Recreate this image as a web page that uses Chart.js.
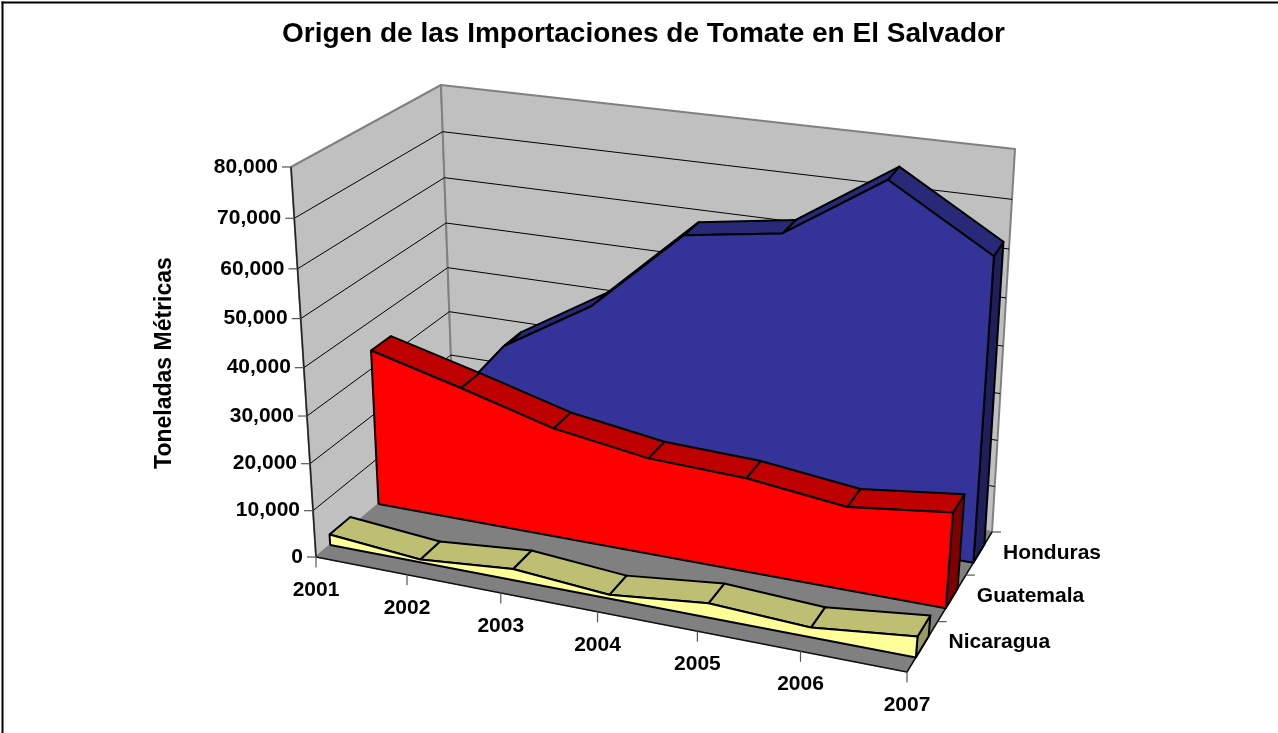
<!DOCTYPE html>
<html>
<head>
<meta charset="utf-8">
<style>html,body{margin:0;padding:0;background:#fff}canvas{display:block}</style>
<script src="https://cdn.jsdelivr.net/npm/chart.js@4"></script>
</head>
<body>
<canvas id="c" width="1278" height="733"></canvas>
<script>
const years = ['2001','2002','2003','2004','2005','2006','2007'];
const depthLabels = ['Nicaragua','Guatemala','Honduras'];
const valueTicks = [0,10000,20000,30000,40000,50000,60000,70000,80000];
const nicaragua = [2300,600,2400,800,3000,2000,4300];
const guatemala = [33900,28900,23500,20500,19800,17400,19900];
const honduras = [8000,30400,42000,59600,62600,75900,63500];
const chartTitle = 'Origen de las Importaciones de Tomate en El Salvador';
const axisTitle = 'Toneladas Métricas';

/* 3-D box frame (canvas px) */
const floorQuad = [[316,557],[907,672],[992,532],[454,440]];
const topQuad   = [[291,167],[942,257],[1015,149],[441,85]];
const VMAX = 80000, PERSP = 1.06;
function sq2q(q){
  const [[x0,y0],[x1,y1],[x2,y2],[x3,y3]] = q;
  const dx1=x1-x2, dx2=x3-x2, sx=x0-x1+x2-x3, dy1=y1-y2, dy2=y3-y2, sy=y0-y1+y2-y3;
  const den=dx1*dy2-dx2*dy1;
  const g=(sx*dy2-dx2*sy)/den, h=(dx1*sy-sx*dy1)/den;
  return {a:x1-x0+g*x1,b:x3-x0+h*x3,c:x0,d:y1-y0+g*y1,e:y3-y0+h*y3,f:y0,g,h};
}
const HF=sq2q(floorQuad), HT=sq2q(topQuad);
const ap=(H,u,v)=>{const w=H.g*u+H.h*v+1;return [(H.a*u+H.b*v+H.c)/w,(H.d*u+H.e*v+H.f)/w];};
function P(u,d,val){
  const f=ap(HF,u,d), t=ap(HT,u,d), r=val/VMAX, k=r/(r+PERSP*(1-r));
  return {x:f[0]+(t[0]-f[0])*k, y:f[1]+(t[1]-f[1])*k};
}
const U=i=>i/(years.length-1);

const ds=[];
function poly(pts,fillC,lineC,lw){
  ds.push({data:pts.concat(fillC?[pts[0]]:[]),showLine:true,pointRadius:0,pointHoverRadius:0,tension:0,
    fill:fillC?'shape':false,backgroundColor:fillC||'transparent',borderColor:lineC,borderWidth:lw,
    borderJoinStyle:'round',clip:false});
}
poly([P(0,0,0),P(0,1,0),P(0,1,VMAX),P(0,0,VMAX)],'#C0C0C0','#808080',2);
poly([P(0,1,0),P(1,1,0),P(1,1,VMAX),P(0,1,VMAX)],'#C0C0C0','#808080',2);
poly([P(0,0,0),P(1,0,0),P(1,1,0),P(0,1,0)],'#808080','#808080',1);
// grid lines
valueTicks.slice(1,-1).forEach(v=>{poly([P(0,0,v),P(0,1,v),P(1,1,v)],null,'#000',1);});
// front axes
poly([P(0,0,0),P(0,0,VMAX)],null,'#222',1.5);
poly([P(0,0,0),P(1,0,0),P(1,1,0)],null,'#111',1.5);
const mark=(p,dx,dy)=>poly([p,{x:p.x+dx,y:p.y+dy}],null,'#555',1.2);
valueTicks.forEach(v=>mark(P(0,0,v),-9,0));
years.forEach((y,i)=>mark(P(U(i),0,0),0,10));
[1/3,2/3,1].forEach(d=>mark(P(1,d,0),9,0));

function series(vals,row,front,top,side){
  const d0=(row+0.28)/3, d1=(row+0.70)/3, n=vals.length;
  const fr=vals.map((v,i)=>P(U(i),d0,v));
  const bk=vals.map((v,i)=>P(U(i),d1,v));
  // right-hand end
  poly([P(1,d0,0),P(1,d1,0),bk[n-1],fr[n-1]],side,'#000',2);
  for(let i=n-2;i>=0;i--) poly([fr[i],fr[i+1],bk[i+1],bk[i]],top,'#000',2);
  poly([P(0,d0,0),P(1,d0,0)].concat(fr.slice().reverse()),front,'#000',2);
}
series(honduras,2,'#333399','#29297A','#1F1F5C');
series(guatemala,1,'#FF0000','#BF0000','#800000');
series(nicaragua,0,'#FFFF99','#BFBF73','#999966');
// outer frame: only the top and left edges fall inside the picture
poly([{x:2.5,y:733},{x:2.5,y:1.5}],null,'#000',2);
poly([{x:1.5,y:2.5},{x:1278,y:2.5}],null,'#000',2);
ds.forEach((d,i)=>d.order=ds.length-i);

const LABEL_FONT='bold 21px "Liberation Sans", Arial, sans-serif';
const labels={id:'labels',afterDraw(ch){
  const c=ch.ctx;c.save();c.fillStyle='#000';c.font=LABEL_FONT;
  c.textBaseline='middle';
  c.textAlign='right';
  valueTicks.forEach(v=>{const p=P(0,0,v);c.fillText(v===0?'0':v.toLocaleString('en-US'),p.x-13,p.y);});
  c.textAlign='center';
  years.forEach((y,i)=>{const p=P(U(i),0,0);c.fillText(y,p.x,p.y+33);});
  c.textAlign='left';
  depthLabels.forEach((t,i)=>{const p=P(1,(i+1)/3,0);c.fillText(t,p.x+11,p.y+21);});
  c.font='bold 23px "Liberation Sans", Arial, sans-serif';
  c.translate(165,363);c.rotate(-Math.PI/2);c.textAlign='center';c.fillText(axisTitle,0,0);
  c.restore();
}};

new Chart(document.getElementById('c'),{
  type:'scatter',
  data:{datasets:ds},
  options:{
    responsive:false,animation:false,
    layout:{padding:{left:9}},
    scales:{x:{display:false,min:9,max:1278},y:{display:false,min:50.6,max:733,reverse:true}},
    plugins:{legend:{display:false},tooltip:{enabled:false},
      title:{display:true,text:chartTitle,color:'#000',font:{family:'"Liberation Sans", Arial, sans-serif',size:28,weight:'bold',lineHeight:1.2},padding:{top:17,bottom:0}}
    }
  },
  plugins:[labels]
});
</script>
</body>
</html>
